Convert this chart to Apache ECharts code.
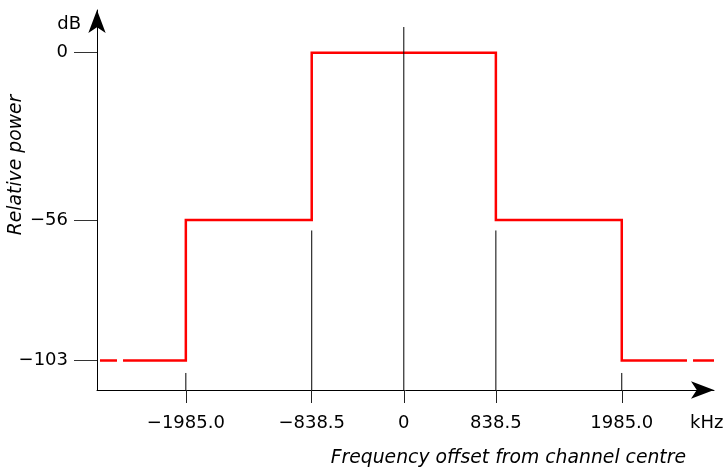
<!DOCTYPE html>
<html>
<head>
<meta charset="utf-8">
<script src="https://cdn.jsdelivr.net/npm/echarts@6/dist/echarts.min.js"></script>
<style>
html,body{margin:0;padding:0;background:#fff;}
#chart{width:728px;height:468px;}
</style>
</head>
<body>
<div id="chart"></div>
<script>
// ---- data ----
const xTicks = [-1985, -838.5, 0, 838.5, 1985];
const xTickLabels = ['\u22121985.0', '\u2212838.5', '0', '838.5', '1985.0'];
const yTicks = [0, -56, -103];
const yTickLabels = ['0', '\u221256', '\u2212103'];

// spectrum mask (kHz offset, dB) – main solid part
const maskFreq = [-2557, -1985, -1985, -838.5, -838.5, 838.5, 838.5, 1985, 1985, 2579];
const maskPower = [-103, -103, -56, -56, 0, 0, -56, -56, -103, -103];
// short dashed tails beyond the break marks
const tailLeftFreq = [-2767, -2612];
const tailRightFreq = [2634, 2825];
const tailPower = -103;

// vertical guide lines: x position and upper end (dB)
const guideFreq = [-1985, -838.5, 0, 838.5, 1985];
const guideTop = [-107.2, -59.5, 8.6, -59.5, -107.2];

const X_MIN = -2794, X_MAX = 2825, Y_MIN = -112.9, Y_MAX = 14.3;

// ---- build series data ----
const redData = [];
tailLeftFreq.forEach(f => redData.push([f, tailPower]));
redData.push([(tailLeftFreq[1] + maskFreq[0]) / 2, '-']);
maskFreq.forEach((f, i) => redData.push([f, maskPower[i]]));
redData.push([(maskFreq[maskFreq.length - 1] + tailRightFreq[0]) / 2, '-']);
tailRightFreq.forEach(f => redData.push([f, tailPower]));

const guideData = [];
guideFreq.forEach((f, i) => {
  guideData.push([f, Y_MIN]);
  guideData.push([f, guideTop[i]]);
  guideData.push([f, '-']);
});

const FONT = '"DejaVu Sans", sans-serif';

const chart = echarts.init(document.getElementById('chart'), null, {renderer: 'canvas'});
chart.setOption({
  animation: false,
  backgroundColor: '#ffffff',
  grid: {left: 97, right: 14, top: 10, bottom: 78, containLabel: false},
  xAxis: {
    type: 'value',
    min: X_MIN, max: X_MAX,
    splitLine: {show: false},
    axisLine: {
      show: true, onZero: false,
      lineStyle: {color: '#000', width: 1},
      symbol: ['none', 'arrow'], symbolSize: [13, 23], symbolOffset: [0, 0]
    },
    axisTick: {
      show: true, customValues: xTicks, length: 13, inside: false,
      lineStyle: {color: '#222', width: 1}
    },
    axisLabel: {
      show: true, customValues: xTicks, margin: 24,
      color: '#000', fontFamily: FONT, fontSize: 18,
      formatter: v => xTickLabels[xTicks.indexOf(v)]
    }
  },
  yAxis: {
    type: 'value',
    min: Y_MIN, max: Y_MAX,
    splitLine: {show: false},
    axisLine: {
      show: true, onZero: false,
      lineStyle: {color: '#000', width: 1},
      symbol: ['none', 'arrow'], symbolSize: [13, 23], symbolOffset: [0, 0]
    },
    axisTick: {
      show: true, customValues: yTicks, length: 23, inside: false,
      lineStyle: {color: '#333', width: 1}
    },
    axisLabel: {
      show: true, customValues: yTicks, margin: 29,
      color: '#000', fontFamily: FONT, fontSize: 18,
      formatter: v => yTickLabels[yTicks.indexOf(v)]
    }
  },
  series: [
    {
      name: 'Spectrum mask',
      type: 'line',
      data: redData,
      showSymbol: false,
      connectNulls: false,
      clip: false,
      lineStyle: {color: '#ff0000', width: 2.5, cap: 'butt', join: 'miter'},
      z: 2
    },
    {
      name: 'Guides',
      type: 'line',
      data: guideData,
      showSymbol: false,
      connectNulls: false,
      clip: false,
      lineStyle: {color: '#000', width: 1},
      z: 3
    }
  ],
  graphic: [
    {type: 'text', x: 81, y: 24, style: {text: 'dB', align: 'right', verticalAlign: 'middle', fontFamily: FONT, fontSize: 18, fill: '#000'}},
    {type: 'text', x: 690, y: 423, style: {text: 'kHz', align: 'left', verticalAlign: 'middle', fontFamily: FONT, fontSize: 18, fill: '#000'}},
    {type: 'text', x: 16.5, y: 165, rotation: Math.PI / 2, style: {text: 'Relative power', align: 'center', verticalAlign: 'middle', fontFamily: FONT, fontSize: 18.8, fontStyle: 'italic', fill: '#000'}},
    {type: 'text', x: 686, y: 458, style: {text: 'Frequency offset from channel centre', align: 'right', verticalAlign: 'middle', fontFamily: FONT, fontSize: 18.8, fontStyle: 'italic', fill: '#000'}}
  ]
});
</script>
</body>
</html>
